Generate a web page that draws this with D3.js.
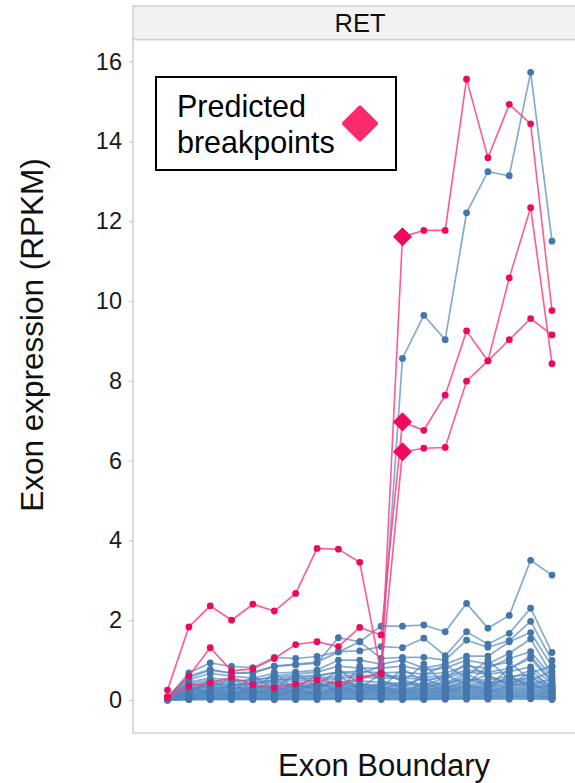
<!DOCTYPE html>
<html><head><meta charset="utf-8">
<script src="https://cdn.jsdelivr.net/npm/d3@7"></script>
<style>body{margin:0;background:#fff}svg{display:block}text{font-family:"Liberation Sans",Arial,sans-serif}</style>
</head><body>
<script>
// exon boundaries (19 positions)
const exonIndex = d3.range(19);
const yTicks = [0, 2, 4, 6, 8, 10, 12, 14, 16];
const breakpointIndex = 11;

// pink series (predicted breakpoints)
const pinkA = [0.25,1.83,2.36,2.0,2.4,2.23,2.67,3.8,3.78,3.45,0.67,11.61,11.77,11.77,15.56,13.59,14.93,14.44,9.76];
const pinkB = [0.08,0.6,1.31,0.73,0.78,1.04,1.39,1.46,1.34,1.82,1.63,6.97,6.76,7.64,9.25,8.50,10.58,12.34,8.43];
const pinkC = [0.06,0.35,0.43,0.57,0.38,0.3,0.4,0.5,0.4,0.55,0.67,6.22,6.31,6.33,7.99,8.50,9.03,9.56,9.15];
const pinkSeries = [pinkA, pinkB, pinkC];

// blue series (other samples)
const blue1 = [0.05,0.28,0.4,0.35,0.45,0.5,0.55,0.6,0.7,0.65,0.85,8.56,9.64,9.03,12.21,13.24,13.14,15.73,11.50];
const blue2 = [0.08,0.55,0.75,0.67,0.7,0.85,0.9,0.95,1.2,1.46,1.85,1.85,1.88,1.71,2.42,1.80,2.12,3.50,3.13];
const blue3 = [0.05,0.68,0.93,0.84,0.81,1.07,1.04,1.09,1.21,1.23,1.34,1.31,1.55,1.11,1.71,1.40,1.67,2.30,1.19];
const blue4 = [0.06,0.6,0.77,0.67,0.67,0.84,0.88,0.92,1.56,1.46,1.04,1.07,1.07,1.0,1.50,1.32,1.49,1.97,0.99];
const blue5 = [0.04,0.5,0.67,0.6,0.55,0.67,0.7,0.75,1.0,1.0,0.9,1.0,0.8,0.9,1.1,1.1,1.46,1.69,0.84];
const blue6 = [0.05,0.45,0.55,0.5,0.48,0.6,0.65,0.7,0.85,0.8,0.8,0.85,0.75,0.8,1.0,0.9,1.17,1.53,0.63];
const blue7 = [0.03,0.4,0.5,0.45,0.52,0.55,0.6,0.62,0.7,0.72,0.68,0.7,0.65,0.68,0.85,0.8,1.04,1.21,0.58];
const blue8 = [0.04,0.35,0.45,0.4,0.42,0.5,0.52,0.55,0.6,0.62,0.6,0.6,0.58,0.6,0.75,0.7,0.79,1.04,0.43];
const blue9 = [0.02,0.3,0.4,0.38,0.4,0.45,0.48,0.5,0.55,0.58,0.55,0.55,0.52,0.55,0.7,0.65,0.71,0.83,0.4];
const blue10 = [0.06,0.42,0.3,0.55,0.25,0.48,0.3,0.62,0.35,0.5,0.72,0.45,0.9,0.38,0.6,1.0,0.52,0.75,0.3];
const blue11 = [0.03,0.15,0.5,0.2,0.6,0.28,0.66,0.35,0.75,0.42,0.3,0.78,0.45,0.62,0.4,0.85,0.95,0.5,0.72];
const blue12 = [0.05,0.32,0.12,0.4,0.18,0.7,0.25,0.45,0.2,0.85,0.5,0.3,0.62,0.88,0.55,0.35,0.78,1.1,0.48];
const blue13 = [0.02,0.22,0.38,0.1,0.35,0.15,0.45,0.2,0.6,0.3,0.65,0.5,0.38,0.55,0.92,0.6,0.4,0.68,0.85];
const blue14 = [0.03,0.28,0.35,0.3,0.33,0.38,0.42,0.4,0.45,0.48,0.44,0.42,0.4,0.45,0.52,0.5,0.6,0.63,0.36];
const blue15 = [0.04,0.25,0.3,0.32,0.28,0.35,0.38,0.36,0.42,0.4,0.38,0.4,0.36,0.4,0.48,0.44,0.5,0.55,0.33];
const blue16 = [0.02,0.22,0.28,0.25,0.3,0.3,0.33,0.35,0.38,0.36,0.35,0.33,0.32,0.35,0.42,0.4,0.45,0.48,0.3];
const blue17 = [0.05,0.2,0.25,0.22,0.24,0.28,0.3,0.32,0.34,0.33,0.3,0.3,0.28,0.32,0.38,0.36,0.4,0.42,0.27];
const blue18 = [0.03,0.18,0.22,0.2,0.22,0.25,0.27,0.28,0.3,0.3,0.28,0.27,0.26,0.29,0.35,0.33,0.37,0.38,0.25];
const blue19 = [0.02,0.15,0.2,0.18,0.2,0.22,0.24,0.25,0.28,0.27,0.25,0.25,0.24,0.26,0.32,0.3,0.33,0.35,0.22];
const blue20 = [0.04,0.14,0.18,0.16,0.18,0.2,0.21,0.22,0.25,0.24,0.22,0.22,0.21,0.23,0.28,0.26,0.3,0.31,0.2];
const blue21 = [0.03,0.12,0.16,0.15,0.16,0.18,0.19,0.2,0.22,0.22,0.2,0.2,0.19,0.21,0.25,0.24,0.27,0.28,0.18];
const blue22 = [0.02,0.1,0.14,0.13,0.14,0.15,0.17,0.18,0.2,0.19,0.18,0.18,0.17,0.19,0.22,0.21,0.24,0.25,0.16];
const blue23 = [0.03,0.09,0.12,0.11,0.12,0.13,0.15,0.16,0.18,0.17,0.16,0.16,0.15,0.17,0.2,0.19,0.21,0.22,0.14];
const blue24 = [0.01,0.08,0.1,0.09,0.1,0.12,0.13,0.14,0.15,0.15,0.14,0.14,0.13,0.15,0.18,0.17,0.19,0.2,0.12];
const blue25 = [0.02,0.06,0.08,0.08,0.09,0.1,0.11,0.12,0.13,0.13,0.12,0.12,0.11,0.13,0.15,0.14,0.16,0.17,0.1];
const blue26 = [0.01,0.05,0.07,0.06,0.07,0.08,0.09,0.1,0.11,0.11,0.1,0.1,0.09,0.11,0.13,0.12,0.14,0.14,0.08];
const blue27 = [0.01,0.04,0.05,0.05,0.06,0.06,0.07,0.08,0.09,0.08,0.08,0.08,0.07,0.09,0.1,0.1,0.11,0.12,0.07];
const blue28 = [0.0,0.03,0.04,0.04,0.04,0.05,0.05,0.06,0.07,0.06,0.06,0.06,0.05,0.07,0.08,0.08,0.09,0.1,0.05];
const blue29 = [0.0,0.02,0.03,0.03,0.03,0.03,0.04,0.04,0.05,0.05,0.04,0.04,0.04,0.05,0.06,0.06,0.07,0.07,0.04];
const blue30 = [0.0,0.01,0.02,0.02,0.02,0.02,0.02,0.03,0.03,0.03,0.03,0.03,0.03,0.03,0.04,0.04,0.05,0.05,0.03];
const blue31 = [0.0,0.01,0.01,0.01,0.01,0.01,0.01,0.01,0.02,0.02,0.01,0.01,0.01,0.02,0.02,0.02,0.02,0.03,0.01];
const blue32 = [0.04,0.33,0.18,0.27,0.41,0.22,0.36,0.3,0.5,0.26,0.42,0.35,0.55,0.3,0.46,0.62,0.38,0.58,0.26];
const blue33 = [0.02,0.12,0.26,0.34,0.15,0.32,0.2,0.42,0.28,0.38,0.22,0.48,0.3,0.44,0.66,0.38,0.55,0.4,0.52];
const blue34 = [0.03,0.2,0.1,0.18,0.27,0.12,0.3,0.15,0.33,0.2,0.36,0.18,0.42,0.24,0.35,0.28,0.62,0.3,0.38];
const blue35 = [0.01,0.07,0.2,0.09,0.22,0.1,0.24,0.13,0.26,0.14,0.27,0.15,0.3,0.18,0.33,0.2,0.36,0.45,0.15];
const blueSeries = [blue1,blue2,blue3,blue4,blue5,blue6,blue7,blue8,blue9,blue10,blue11,blue12,blue13,blue14,blue15,blue16,blue17,blue18,blue19,blue20,blue21,blue22,blue23,blue24,blue25,blue26,blue27,blue28,blue29,blue30,blue31,blue32,blue33,blue34,blue35];

const W = 575, H = 783;
const svg = d3.select("body").append("svg").attr("width", W).attr("height", H);

const panel = {left: 133, right: 590, top: 6, strip: 39.5, bottom: 733};
const x = d3.scalePoint().domain(exonIndex).range([167.5, 552]);
const y = d3.scaleLinear().domain([0, 16]).range([700, 61.6]);

// panel frame
svg.append("rect").attr("x", panel.left).attr("y", panel.strip)
  .attr("width", panel.right - panel.left).attr("height", panel.bottom - panel.strip)
  .attr("fill", "#fff").attr("stroke", "#d0d0d0").attr("stroke-width", 1.5);
// strip
svg.append("rect").attr("x", panel.left).attr("y", panel.top)
  .attr("width", panel.right - panel.left).attr("height", panel.strip - panel.top)
  .attr("fill", "#f2f2f2").attr("stroke", "#d0d0d0").attr("stroke-width", 1.5);
svg.append("text").attr("x", 360).attr("y", 31.5).attr("text-anchor", "middle")
  .attr("font-size", 25.5).attr("fill", "#111").text("RET");

// y axis
const yAxis = d3.axisLeft(y).tickValues(yTicks).tickSize(4).tickPadding(7);
const gy = svg.append("g").attr("transform", `translate(${panel.left},0)`).call(yAxis);
gy.select(".domain").remove();
gy.selectAll(".tick line").attr("stroke", "#c8c8c8").attr("stroke-width", 1.2);
gy.selectAll(".tick text").attr("font-size", 23.5).attr("fill", "#1a1a1a")
  .attr("font-family", "'Liberation Sans', Arial, sans-serif");

// axis titles
svg.append("text").attr("transform", "translate(43,335) rotate(-90)")
  .attr("text-anchor", "middle").attr("font-size", 31.5).attr("fill", "#111")
  .text("Exon expression (RPKM)");
svg.append("text").attr("x", 384).attr("y", 776).attr("text-anchor", "middle")
  .attr("font-size", 31).attr("fill", "#111").text("Exon Boundary");

const line = d3.line().x((d, i) => x(i)).y(d => y(d));
const gPlot = svg.append("g");

// blue lines
blueSeries.forEach(s => {
  gPlot.append("path").datum(s).attr("d", line).attr("fill", "none")
    .attr("stroke", "#5087c0").attr("stroke-opacity", 0.7).attr("stroke-width", 1.7);
});
blueSeries.forEach(s => {
  gPlot.append("g").selectAll("circle").data(s).join("circle")
    .attr("cx", (d, i) => x(i)).attr("cy", d => y(d)).attr("r", 3.4)
    .attr("fill", "#4577ad");
});

// pink lines
pinkSeries.forEach(s => {
  gPlot.append("path").datum(s).attr("d", line).attr("fill", "none")
    .attr("stroke", "#ff3d80").attr("stroke-opacity", 0.85).attr("stroke-width", 1.6);
});
pinkSeries.forEach(s => {
  gPlot.append("g").selectAll("circle").data(s).join("circle")
    .attr("cx", (d, i) => x(i)).attr("cy", d => y(d)).attr("r", 3.4)
    .attr("fill", "#ea0a60");
});

// breakpoint diamonds
const diamond = (cx, cy, r) => `M${cx},${cy - r}L${cx + r},${cy}L${cx},${cy + r}L${cx - r},${cy}Z`;
pinkSeries.forEach(s => {
  gPlot.append("path").attr("d", diamond(x(breakpointIndex), y(s[breakpointIndex]), 8.5))
    .attr("fill", "#f0085f").attr("stroke", "#f0085f").attr("stroke-width", 1.5)
    .attr("stroke-linejoin", "round");
});

// legend
svg.append("rect").attr("x", 156).attr("y", 77).attr("width", 240).attr("height", 93)
  .attr("fill", "#fff").attr("stroke", "#000").attr("stroke-width", 2);
svg.append("text").attr("x", 177).attr("y", 117).attr("font-size", 30.5).attr("fill", "#000").text("Predicted");
svg.append("text").attr("x", 177).attr("y", 153).attr("font-size", 30.5).attr("fill", "#000").text("breakpoints");
svg.append("path").attr("d", diamond(360, 123.5, 16))
  .attr("fill", "#fc2b6e").attr("stroke", "#fc2b6e").attr("stroke-width", 4)
  .attr("stroke-linejoin", "round");
</script>
</body></html>
